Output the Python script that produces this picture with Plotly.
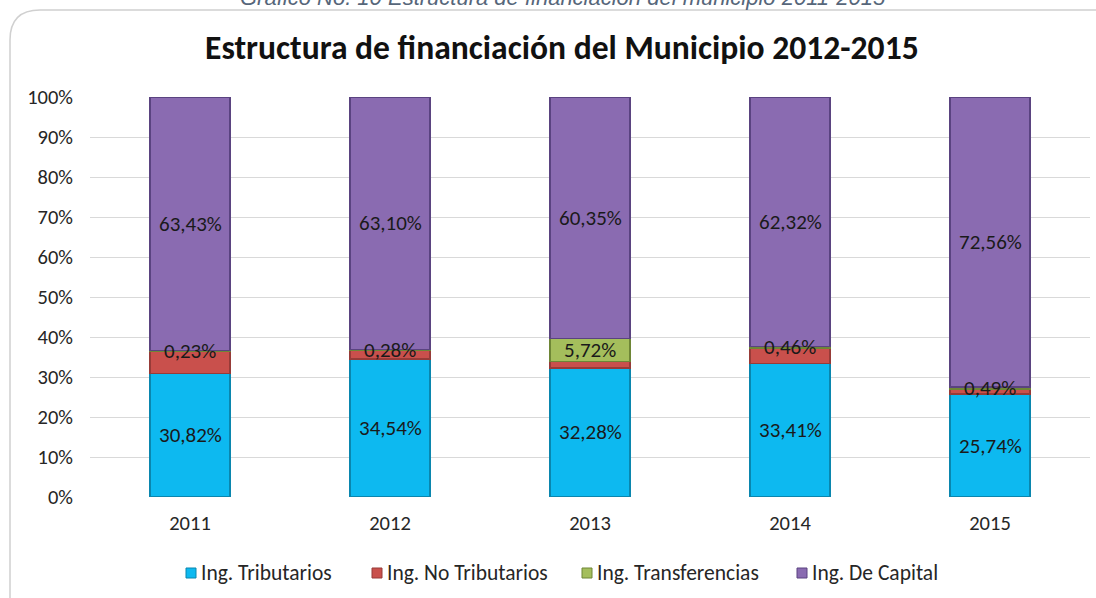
import plotly.graph_objects as go

years = ["2011", "2012", "2013", "2014", "2015"]
tributarios = [30.82, 34.54, 32.28, 33.41, 25.74]
no_tributarios = [5.52, 2.08, 1.65, 3.81, 1.21]
transferencias = [0.23, 0.28, 5.72, 0.46, 0.49]
capital = [63.43, 63.10, 60.35, 62.32, 72.56]
tick_vals = [0, 10, 20, 30, 40, 50, 60, 70, 80, 90, 100]
tick_text = [f"{v}%" for v in tick_vals]

FONT = "Carlito, Lato, Open Sans, sans-serif"

def fmt(v):
    return f"{v:.2f}%".replace(".", ",")

series = [
    ("Ing. Tributarios", tributarios, "#0DB9F0", "#0A86AE", True),
    ("Ing. No Tributarios", no_tributarios, "#C9504C", "#973B38", False),
    ("Ing. Transferencias", transferencias, "#A4BE5C", "#6E8636", True),
    ("Ing. De Capital", capital, "#8A6BB1", "#5A4380", True),
]

# pixel -> paper helpers (plot area: x 90..1090, y 97..497)
L, T, W, H = 90, 97, 1000, 400
def px(x):
    return (x - L) / W
def py(y):
    return (T + H - y) / H

fig = go.Figure()
for name, vals, col, edge, _ in series:
    fig.add_trace(go.Bar(
        x=years, y=vals, name=name,
        marker=dict(color=col, line=dict(color=edge, width=1.5)),
        width=0.4, hoverinfo="skip",
    ))

annotations = []
base = [0.0] * len(years)
for name, vals, col, edge, labeled in series:
    for i, v in enumerate(vals):
        if labeled:
            annotations.append(dict(
                x=i, y=base[i] + v / 2, xref="x", yref="y",
                text=fmt(v), showarrow=False,
                font=dict(size=21, color="#1a1a1a", family=FONT),
            ))
        base[i] += v

annotations.append(dict(
    x=px(562), y=py(48), xref="paper", yref="paper", yanchor="middle", xanchor="center",
    text="<b>Estructura de financiación del Municipio 2012-2015</b>",
    showarrow=False,
    font=dict(size=33.6, color="#111111", family=FONT),
))
annotations.append(dict(
    x=px(563), y=py(-3), xref="paper", yref="paper", yanchor="middle", xanchor="center",
    text="<i>Gráfico No. 10 Estructura de financiación del municipio 2011-2015</i>",
    showarrow=False,
    font=dict(size=22, color="#56667A", family="Liberation Sans, Arial, sans-serif"),
))

shapes = [dict(
    type="path", xref="paper", yref="paper",
    path=f"M {px(10)},{py(620)} L {px(10)},{py(40)} Q {px(10)},{py(10)} {px(40)},{py(10)} L {px(1110)},{py(10)}",
    line=dict(color="#D0D0D0", width=1.5),
)]

legend_x = [191, 377, 587, 802]
for (name, vals, col, edge, _), lx in zip(series, legend_x):
    shapes.append(dict(
        type="rect", xref="paper", yref="paper",
        x0=px(lx - 5), x1=px(lx + 5), y0=py(578), y1=py(568),
        fillcolor=col, line=dict(color=edge, width=1),
    ))
    annotations.append(dict(
        x=px(lx + 8), y=py(573), xref="paper", yref="paper",
        xanchor="left", yanchor="middle", text=name, showarrow=False,
        font=dict(size=21.5, color="#262626", family=FONT),
    ))

fig.update_layout(
    width=1096, height=598,
    margin=dict(l=L, r=1096 - L - W, t=T, b=598 - T - H),
    barmode="stack",
    paper_bgcolor="white", plot_bgcolor="white",
    font=dict(family=FONT, color="#404040"),
    showlegend=False,
    annotations=annotations,
    shapes=shapes,
    xaxis=dict(type="category", showgrid=False, showline=False, ticks="",
               tickfont=dict(size=20.5, color="#262626"),
               range=[-0.5, 4.5], ticklabelstandoff=11),
    yaxis=dict(range=[0, 100], tickvals=tick_vals, ticktext=tick_text,
               showgrid=True, gridcolor="#D9D9D9", gridwidth=1, zeroline=False,
               tickfont=dict(size=20.5, color="#262626"), ticklabelstandoff=16),
)

fig.write_html("out.html", config={"displayModeBar": False},
               post_script="document.body.style.margin='0';")
